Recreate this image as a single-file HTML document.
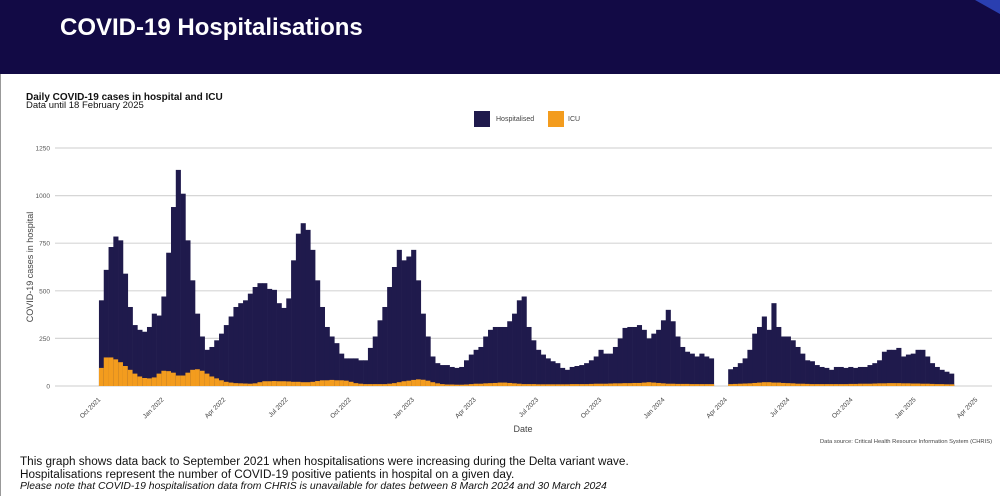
<!DOCTYPE html>
<html><head><meta charset="utf-8"><style>
body{margin:0;width:1000px;height:496px;overflow:hidden;background:#fff;font-family:"Liberation Sans",sans-serif;position:relative}
#hdr{position:absolute;left:0;top:0;width:1000px;height:74px;background:#120a45}
#hdr h1{position:absolute;left:60px;top:14px;margin:0;color:#fff;font-size:24px;font-weight:bold}
.t{position:absolute;white-space:nowrap;color:#111}
</style></head><body>
<div id="hdr"><h1>COVID-19 Hospitalisations</h1>
<svg style="position:absolute;right:0;top:0" width="40" height="20"><polygon points="15,0 40,0 40,14" fill="#2a3fb0"/></svg></div>
<div style="position:absolute;left:0;top:74px;width:1px;height:422px;background:#999"></div>
<div class="t" style="left:26px;top:92px;font-size:10px;font-weight:bold">Daily COVID-19 cases in hospital and ICU</div>
<div class="t" style="left:26px;top:100px;font-size:9.5px">Data until 18 February 2025</div>
<svg id="c" width="1000" height="496" style="position:absolute;left:0;top:0"></svg>
<div class="t" style="left:20px;top:455px;font-size:11.75px">This graph shows data back to September 2021 when hospitalisations were increasing during the Delta variant wave.</div>
<div class="t" style="left:20px;top:468px;font-size:11.75px">Hospitalisations represent the number of COVID-19 positive patients in hospital on a given day.</div>
<div class="t" style="left:20px;top:481px;font-size:10.4px;font-style:italic">Please note that COVID-19 hospitalisation data from CHRIS is unavailable for dates between 8 March 2024 and 30 March 2024</div>
<script>
const startDate = "2021-09-28";
const hospitalised = [450,610,730,785,765,590,415,320,295,285,310,380,370,470,700,940,1135,1010,765,555,380,260,190,205,240,275,320,365,415,435,450,485,520,540,540,510,505,435,410,460,660,800,855,820,715,555,415,310,260,225,170,145,145,145,135,135,200,260,345,415,520,625,715,660,680,715,555,380,260,155,120,110,110,100,95,100,135,165,190,205,260,295,310,310,
310,340,380,450,470,310,240,190,165,145,130,120,95,85,100,105,110,120,135,155,190,170,170,205,250,305,310,310,320,295,250,275,295,345,400,340,260,205,180,170,155,170,155,145,
null,null,null,
88,100,120,145,190,275,310,365,295,435,310,260,260,240,205,170,135,130,110,100,95,85,100,100,95,100,95,100,100,110,120,135,180,190,190,200,155,165,170,190,190,155,120,100,85,75,65];
const icu = [95,150,150,140,125,105,85,65,50,42,40,45,65,80,78,70,55,55,70,85,88,80,65,50,40,30,22,18,15,14,13,12,14,20,25,25,26,25,25,24,22,22,20,20,22,26,30,30,32,30,30,28,22,15,12,10,10,10,10,10,12,15,20,25,28,32,35,33,28,20,14,10,8,8,7,7,8,10,12,12,14,15,16,18,
18,16,14,12,10,10,10,9,9,9,9,9,9,9,10,10,10,10,11,12,12,12,13,14,14,15,15,16,16,18,20,18,16,14,12,12,11,11,11,10,10,10,10,10,
null,null,null,
10,11,12,13,14,16,18,20,20,18,18,16,15,14,12,12,11,10,10,10,10,10,10,10,10,11,11,12,12,12,13,14,14,15,15,15,14,14,13,13,12,12,11,10,10,9,9];
const yTicks = [0,250,500,750,1000,1250];
const xTickLabels = ["Oct 2021","Jan 2022","Apr 2022","Jul 2022","Oct 2022","Jan 2023","Apr 2023","Jul 2023","Oct 2023","Jan 2024","Apr 2024","Jul 2024","Oct 2024","Jan 2025","Apr 2025"];
const xTickDates = ["2021-10-01","2022-01-01","2022-04-01","2022-07-01","2022-10-01","2023-01-01","2023-04-01","2023-07-01","2023-10-01","2024-01-01","2024-04-01","2024-07-01","2024-10-01","2025-01-01","2025-04-01"];

const NS="http://www.w3.org/2000/svg", svg=document.getElementById('c');
const D0=Date.parse("2021-10-01");
function x(d){return 101+(Date.parse(d)-D0)/864e5*0.6862;}
function y(v){return 386-v*0.1904;}
function mk(t,a,p){const e=document.createElementNS(NS,t);for(const k in a)e.setAttribute(k,a[k]);(p||svg).appendChild(e);return e;}
yTicks.forEach(v=>{
 const l=mk('line',{x1:55,x2:992,y1:y(v),y2:y(v),stroke:'#d6d6d6','stroke-width':1.2});
 
 
 const t=mk('text',{x:50,y:y(v)+2.5,'text-anchor':'end','font-size':6.5,fill:'#555'});t.textContent=v;
 
 
});
const s0=Date.parse(startDate);
function dstr(i){return new Date(s0+i*7*864e5).toISOString().slice(0,10);}
hospitalised.forEach((v,i)=>{
 if(v==null)return;
 const x0=x(dstr(i)),x1=x(dstr(i+1))+0.3;
 const r=mk('rect',{x:x0,y:y(v),width:x1-x0,height:386-y(v),fill:'#1f1a4c'});
 
 
 const c=icu[i];
 if(c!=null){const q=mk('rect',{x:x0,y:y(c),width:x1-x0,height:386-y(c),fill:'#f39c1e'});
 
 }
});
xTickLabels.forEach((s,i)=>{
 const px=x(xTickDates[i]);
 const t=mk('text',{x:px,y:400,'text-anchor':'end','font-size':6.5,fill:'#444',transform:`rotate(-45 ${px} 400)`});t.textContent=s;
 
 
});
let t=mk('text',{x:523,y:432,'text-anchor':'middle','font-size':9,fill:'#444'});t.textContent='Date';


t=mk('text',{x:33,y:267,'text-anchor':'middle','font-size':9,fill:'#444',transform:'rotate(-90 33 267)'});t.textContent='COVID-19 cases in hospital';


t=mk('text',{x:992,y:443,'text-anchor':'end','font-size':5.8,fill:'#444'});t.textContent='Data source: Critical Health Resource Information System (CHRIS)';


let g=mk('rect',{x:474,y:111,width:16,height:16,fill:'#1f1a4c'});


t=mk('text',{x:496,y:121,'font-size':7,fill:'#444'});t.textContent='Hospitalised';


g=mk('rect',{x:548,y:111,width:16,height:16,fill:'#f39c1e'});


t=mk('text',{x:568,y:121,'font-size':7,fill:'#444'});t.textContent='ICU';


</script>
</body></html>
